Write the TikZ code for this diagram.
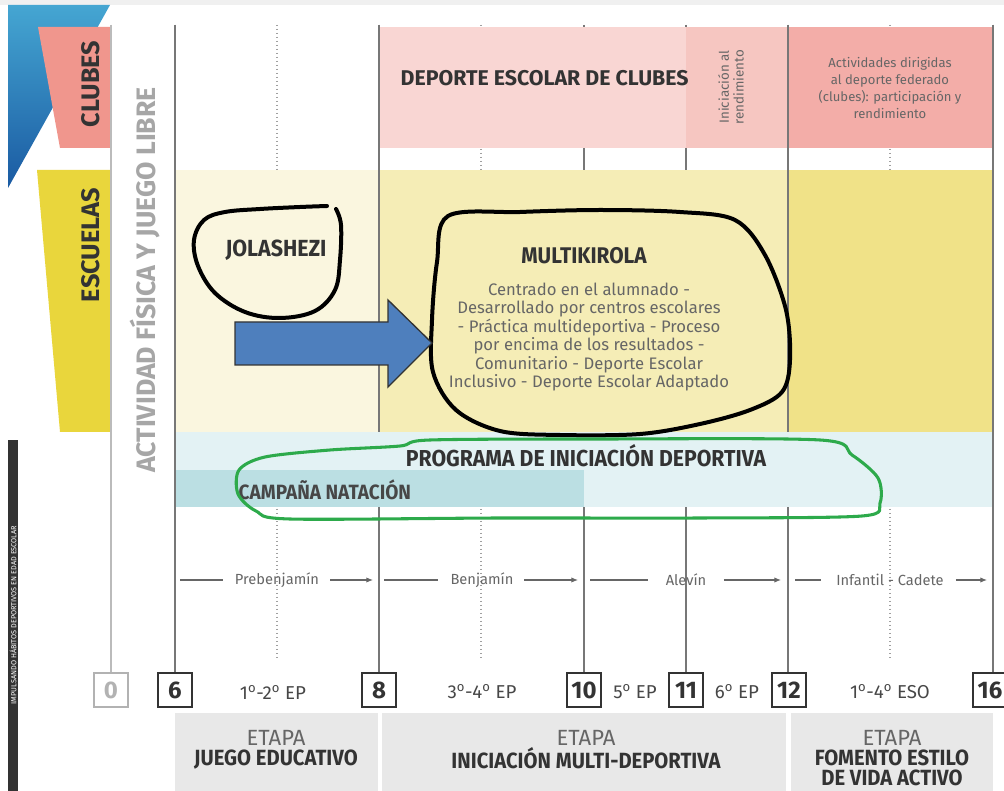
\documentclass[tikz,border=0pt]{standalone}
\usepackage{fontspec}
\setmainfont{Fira Sans}
\newfontfamily\cond[FakeStretch=0.92]{Fira Sans}
\usetikzlibrary{arrows.meta}
\definecolor{clubtab}{HTML}{F0968D}
\definecolor{esctab}{HTML}{E9D63C}
\definecolor{blueTop}{HTML}{45A6D2}
\definecolor{blueBot}{HTML}{1A5AA2}
\definecolor{pinkL}{HTML}{F9D6D3}
\definecolor{pinkM}{HTML}{F6C6C1}
\definecolor{pinkD}{HTML}{F3ADA8}
\definecolor{yelL}{HTML}{FAF6DF}
\definecolor{yelM}{HTML}{F5EDB6}
\definecolor{yelD}{HTML}{F0E288}
\definecolor{bluL}{HTML}{E3F2F4}
\definecolor{bluC}{HTML}{BBDFE3}
\definecolor{etapagray}{HTML}{E8E8E8}
\definecolor{linegray}{HTML}{777777}
\definecolor{txtdark}{HTML}{333333}
\definecolor{txtgray}{HTML}{666666}
\definecolor{arrowblue}{HTML}{4E7FBD}
\definecolor{handgreen}{HTML}{2DAA4B}
\newcommand{\ord}{\textsuperscript{o}}
\tikzset{
  colline/.style={draw=linegray, line width=1.1pt},
  dotline/.style={draw=linegray!70, line width=1pt, dotted},
  numbox/.style={draw=txtdark, line width=1.5pt, fill=white, minimum width=25.5pt, minimum height=25.5pt, inner sep=0pt, font=\fontsize{18}{18}\selectfont\bfseries, text=txtdark},
  eplabel/.style={font=\fontsize{14}{14}\selectfont, text=txtdark!90},
  catlabel/.style={font=\fontsize{11}{11}\selectfont, text=txtgray, inner sep=1pt},
  catline/.style={draw=txtgray, line width=0.8pt},
  etapabox/.style={fill=etapagray},
  etapatext/.style={align=center, text=txtdark, font=\fontsize{16.5}{15}\selectfont},
  hand/.style={draw=black, line width=3pt, line join=round, line cap=round},
}
\begin{document}
\begin{tikzpicture}[x=0.75pt,y=-0.75pt]
\useasboundingbox (0,0) rectangle (1004,791);
\fill[white] (0,0) rectangle (1004,791);
\fill[gray!12] (0,0) rectangle (1004,5);
% blue triangle
\shade[top color=blueTop, bottom color=blueBot] (8,5) -- (110,5) -- (8,188) -- cycle;
% tabs
\fill[clubtab] (38,27) -- (110,27) -- (110,148) -- (60,148) -- cycle;
\fill[esctab] (37,170) -- (110,170) -- (110,432) -- (60,432) -- cycle;
\node[rotate=90, font=\fontsize{19}{19}\selectfont\bfseries, text=txtdark] (clubes) at (91,84) {CLUBES};
\node[rotate=90, font=\fontsize{19}{19}\selectfont\bfseries, text=txtdark] (escuelas) at (91,245) {ESCUELAS};
% left dark strip
\fill[txtdark] (8,440) rectangle (18,791);
\node[rotate=90, font=\fontsize{5.5}{5.5}\selectfont, text=white, inner sep=0pt] (strip) at (13,615) {IMPULSANDO HÁBITOS DEPORTIVOS EN EDAD ESCOLAR};
% column lines
\draw[draw=linegray!50, line width=1pt] (111,25) -- (111,674);
\foreach \xx in {175,379,584,686,788,993} \draw[colline] (\xx,25) -- (\xx,674);
\foreach \xx in {277,481,890} \draw[dotline] (\xx,25) -- (\xx,660);
% bands
\fill[pinkL] (379,27) rectangle (686,148);
\fill[pinkM] (686,27) rectangle (788,148);
\fill[pinkD] (788,27) rectangle (993,148);
\fill[yelL] (175,170) rectangle (379,432);
\fill[yelM] (379,170) rectangle (788,432);
\fill[yelD] (788,170) rectangle (993,432);
\fill[bluL] (175,432) rectangle (993,507);
\fill[bluC] (175,470) rectangle (584,507);
\draw[colline] (175,25) -- (175,674);
\draw[colline] (993,25) -- (993,674);
\draw[colline] (379,25) -- (379,432);
\draw[colline] (788,25) -- (788,432);
% vertical title
\node[rotate=90, font=\fontsize{20}{20}\selectfont\bfseries, text=gray!70] (libre) at (145,280) {ACTIVIDAD FÍSICA Y JUEGO LIBRE};
% clubs texts
\node[font=\fontsize{16}{16}\selectfont\bfseries, text=txtdark, anchor=west] (dec) at (396,78) {DEPORTE ESCOLAR DE CLUBES};
\node[rotate=90, align=center, font=\fontsize{10}{11}\selectfont, text=txtgray] (inic) at (731,87) {Iniciación al\\rendimiento};
\node[align=center, font=\fontsize{9.8}{12.8}\selectfont, text=txtgray] (activ) at (890,88) {Actividades dirigidas\\al deporte federado\\(clubes): participación y\\rendimiento};
% schools texts
\node[font=\fontsize{17.5}{17.5}\selectfont\bfseries\cond, text=txtdark] (jol) at (276,250) {JOLASHEZI};
\node[font=\fontsize{17}{17}\selectfont\bfseries\cond, text=txtdark] (multi) at (584,256) {MULTIKIROLA};
\node[align=center, font=\fontsize{12.5}{13.9}\selectfont, text=txtgray] (multitxt) at (589,337) {Centrado en el alumnado -\\Desarrollado por centros escolares\\- Práctica multideportiva - Proceso\\por encima de los resultados -\\Comunitario - Deporte Escolar\\Inclusivo - Deporte Escolar Adaptado};
% programa
\node[font=\fontsize{17.3}{17.3}\selectfont\bfseries\cond, text=txtdark] (prog) at (586,456) {PROGRAMA DE INICIACIÓN DEPORTIVA};
\node[font=\fontsize{15.5}{15.5}\selectfont\bfseries\cond, text=txtdark!90, anchor=west] (camp) at (234,490) {CAMPAÑA NATACIÓN};
% categories
\node[catlabel] (pre) at (277,580) {Prebenjamín};
\node[catlabel] (ben) at (482,580) {Benjamín};
\node[catlabel] (ale) at (686,580) {Alevín};
\node[catlabel] (inf) at (890,580) {Infantil - Cadete};
\coordinate (a6) at (180,580); \coordinate (b8) at (373,580);
\coordinate (a8) at (384,580); \coordinate (b10) at (578,580);
\coordinate (a10) at (590,580); \coordinate (b12) at (781,580);
\coordinate (a12) at (795,580); \coordinate (b16) at (987,580);
\draw[catline] (a6) -- ([xshift=-8pt]pre.west);
\draw[catline, -{Latex[length=5pt,width=4pt]}] ([xshift=7pt]pre.east) -- (b8);
\draw[catline] (a8) -- ([xshift=-8pt]ben.west);
\draw[catline, -{Latex[length=5pt,width=4pt]}] ([xshift=7pt]ben.east) -- (b10);
\draw[catline] (a10) -- ([xshift=-12pt]ale.west);
\draw[catline, -{Latex[length=5pt,width=4pt]}] ([xshift=12pt]ale.east) -- (b12);
\draw[catline] (a12) -- ([xshift=-10pt]inf.west);
\draw[catline, -{Latex[length=5pt,width=4pt]}] ([xshift=8pt]inf.east) -- (b16);
% number boxes
\node[numbox, draw=gray!60, text=gray!60] (n0) at (111,690) {0};
\node[numbox] (n6) at (175,690) {6};
\node[numbox] (n8) at (379,690) {8};
\node[numbox] (n10) at (584,690) {10};
\node[numbox] (n11) at (686,690) {11};
\node[numbox] (n12) at (789,690) {12};
\node[numbox, anchor=west] (n16) at (972,690) {16};
\node[eplabel] (ep12) at (273,692) {1\ord-2\ord{} EP};
\node[eplabel] (ep34) at (482,692) {3\ord-4\ord{} EP};
\node[eplabel] (ep5) at (635,692) {5\ord{} EP};
\node[eplabel] (ep6) at (737,692) {6\ord{} EP};
\node[eplabel] (eso) at (890,692) {1\ord-4\ord{} ESO};
% etapa boxes
\fill[etapabox] (175,713) rectangle (378,791);
\fill[etapabox] (382,713) rectangle (786,791);
\fill[etapabox] (791,713) rectangle (993,791);
\node[etapatext, anchor=north] (e1) at (276,726) {{\color{txtgray}ETAPA}\\{\bfseries\cond JUEGO EDUCATIVO}};
\node[etapatext, anchor=north] (e2) at (586,726) {{\color{txtgray}ETAPA}\\{\bfseries\cond INICIACIÓN MULTI-DEPORTIVA}};
\node[etapatext, anchor=north] (e3) at (892,726) {{\color{txtgray}ETAPA}\\{\bfseries\cond FOMENTO ESTILO}\\{\bfseries\cond DE VIDA ACTIVO}};
% hand drawn marks
\draw[hand] plot[smooth, tension=0.6] coordinates {(336,209) (341,225) (340,260) (335,290) (315,311) (280,318) (245,312) (215,293) (198,266) (194,240) (204,220) (225,212) (260,209) (300,207) (327,206)};
\draw[hand] plot[smooth cycle, tension=0.55] coordinates {(448,216) (520,212) (600,210) (680,212) (735,220) (765,255) (786,310) (790,360) (782,392) (750,410) (700,424) (640,434) (560,435) (500,431) (456,410) (433,372) (432,320) (437,262)};
\fill[arrowblue, draw=black!80, line width=1pt] (235,322) -- (388,322) -- (388,300) -- (432,343) -- (388,387) -- (388,365) -- (235,365) -- cycle;
\draw[draw=handgreen, line width=2.3pt, line join=round] plot[smooth cycle, tension=0.5] coordinates {(430,440) (600,439) (820,440) (852,455) (878,478) (880,503) (862,516) (700,518) (500,518) (290,519) (256,511) (238,494) (239,470) (265,457) (330,450) (400,446)};
\end{tikzpicture}
\end{document}
